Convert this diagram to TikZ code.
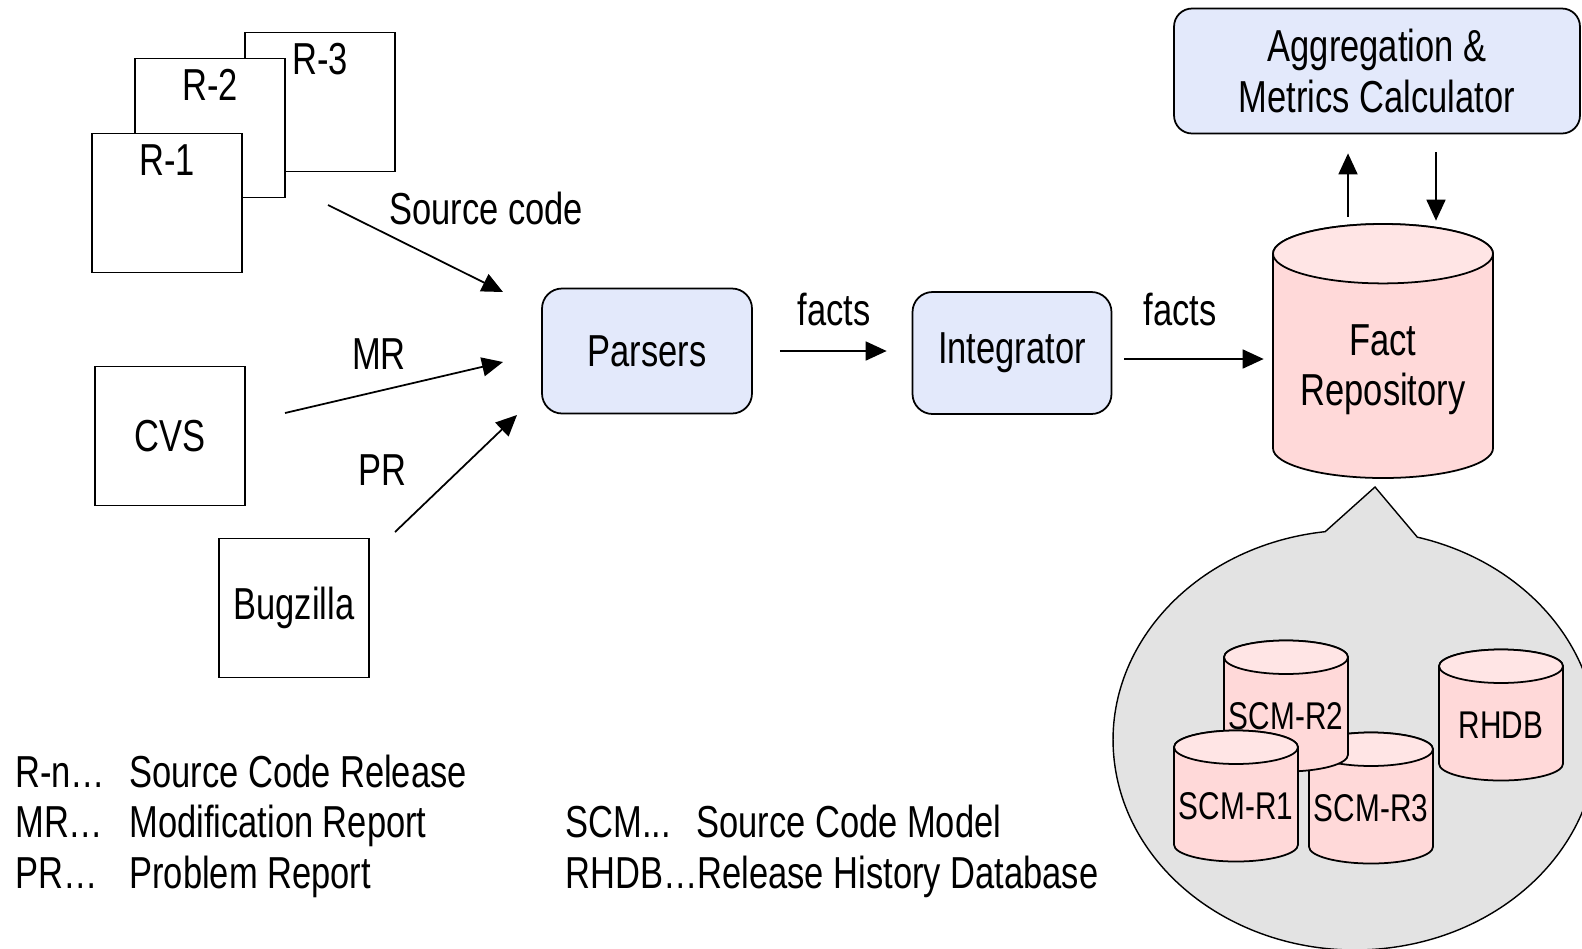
\documentclass[tikz,border=0pt]{standalone}
\usepackage{fontspec}
\setmainfont{Liberation Sans}[FakeStretch=0.77]
\usetikzlibrary{arrows.meta,shapes.callouts,calc}

\definecolor{procblue}{RGB}{227,233,251}
\definecolor{dbbody}{RGB}{255,217,217}
\definecolor{dbtop}{RGB}{255,229,229}
\definecolor{bubblegray}{RGB}{227,227,227}

% database drum: name, x, y, width, height, text style, text
\newcommand{\drum}[7]{%
  \path[drum body] ({#2-#4/2},{#3+#5/2-0.135*#4}) -- ({#2-#4/2},{#3-#5/2+0.135*#4})
    arc[start angle=180, end angle=360, x radius=#4/2, y radius=0.135*#4]
    -- ({#2+#4/2},{#3+#5/2-0.135*#4})
    arc[start angle=0, end angle=180, x radius=#4/2, y radius=0.135*#4] -- cycle;
  \path[drum top] (#2,{#3+#5/2-0.135*#4}) ellipse[x radius=#4/2, y radius=0.135*#4];
  \node[inner sep=0, minimum width=#4*0.02cm, minimum height=#5*0.02cm] (#1) at (#2,#3) {};
  \node[#6] (#1-text) at (#2,{#3-0.085*#4}) {#7};
}

\begin{document}
\begin{tikzpicture}[
    x=0.02cm, y=0.02cm,
    txt/.style={font=\fontsize{25.5}{28.5}\selectfont, inner sep=0},
    smalltxt/.style={font=\fontsize{22}{25}\selectfont, inner sep=0},
    doc/.style={draw, fill=white, line width=1pt, minimum width=3.0cm, minimum height=2.78cm, inner sep=0},
    proc/.style={draw, fill=procblue, line width=1pt, rounded corners=0.4cm, txt, align=center},
    drum body/.style={draw, fill=dbbody, line width=1pt},
    drum top/.style={draw, fill=dbtop, line width=1pt},
    flow/.style={-{Triangle[length=0.42cm, width=0.38cm]}, line width=1pt},
    legend/.style={txt, anchor=base west},
  ]
  \useasboundingbox (0,0) rectangle (1582,-948);

  % Source code releases
  \node[doc] (r3) at (320,-102) {};
  \node[txt, anchor=base] (r3-text) at ([yshift=-0.86cm]r3.north) {R-3};
  \node[doc] (r2) at (210,-128) {};
  \node[txt, anchor=base] (r2-text) at ([yshift=-0.86cm]r2.north) {R-2};
  \node[doc] (r1) at (167,-203) {};
  \node[txt, anchor=base] (r1-text) at ([yshift=-0.86cm]r1.north) {R-1};

  % Repositories
  \node[doc, txt] (cvs) at (170,-436) {CVS};
  \node[doc, txt] (bugzilla) at (294,-608) {Bugzilla};

  % Processing
  \node[proc, minimum width=4.2cm, minimum height=2.5cm] (parsers) at (647,-351) {Parsers};
  \node[proc, minimum width=3.98cm, minimum height=2.44cm] (integrator) at (1012,-353) {Integrator};
  \node[proc, minimum width=8.12cm, minimum height=2.5cm, rounded corners=0.36cm] (agg) at (1377,-71) {Aggregation \&\\Metrics Calculator};

  \drum{factrep}{1383}{-351}{220}{254}{txt, align=center}{Fact\\Repository}

  % Inputs to parsers
  \coordinate (scTail) at (328,-205);
  \coordinate (scHead) at (503,-292);
  \coordinate (mrTail) at (285,-413);
  \coordinate (mrHead) at (503,-362);
  \coordinate (prTail) at (395,-532);
  \coordinate (prHead) at (517,-415);
  \draw[flow] (scTail) -- (scHead);
  \draw[flow] (mrTail) -- (mrHead);
  \draw[flow] (prTail) -- (prHead);
  \node[txt, anchor=base] (lblsrc) at (486,-224) {Source code};
  \node[txt, anchor=base] (lblmr) at (379,-369) {MR};
  \node[txt, anchor=base] (lblpr) at (382,-485) {PR};

  % Facts
  \draw[flow, shorten <=0.54cm, shorten >=0.5cm] (parsers.east) -- (parsers.east -| integrator.west);
  \node[txt, anchor=base] (lblfacts1) at (834,-325) {facts};
  \draw[flow, shorten <=0.24cm, shorten >=0.18cm] ([yshift=-0.12cm]integrator.east) -- ([yshift=-0.12cm]integrator.east -| factrep.west);
  \node[txt, anchor=base] (lblfacts2) at (1180,-325) {facts};

  % Repository <-> calculator
  \draw[flow, shorten <=0.14cm, shorten >=0.38cm] ([xshift=-0.7cm]factrep.north) -- ([xshift=-0.7cm]factrep.north |- agg.south);
  \draw[flow, shorten <=0.36cm, shorten >=0.06cm] ([xshift=1.06cm]factrep.north |- agg.south) -- ([xshift=1.06cm]factrep.north);

  % Repository contents
  \node[ellipse callout, draw, fill=bubblegray, line width=0.8pt, minimum width=9.68cm, minimum height=8.4cm,
    callout absolute pointer={(1375,-487)}, callout pointer arc=22] (bubble) at (1355,-740) {};
  \drum{scmr3}{1371}{-798}{124}{131}{smalltxt}{SCM-R3}
  \drum{scmr2}{1286}{-706}{124}{131}{smalltxt}{SCM-R2}
  \drum{scmr1}{1236}{-796}{124}{131}{smalltxt}{SCM-R1}
  \drum{rhdb}{1501}{-715}{124}{131}{smalltxt}{RHDB}

  % Legend
  \node[legend] (key1) at (15,-787) {R-n…};
  \node[legend] (def1) at (129,-787) {Source Code Release};
  \node[legend] (key2) at (15,-837) {MR…};
  \node[legend] (def2) at (129,-837) {Modification Report};
  \node[legend] (key3) at (15,-888) {PR…};
  \node[legend] (def3) at (129,-888) {Problem Report};
  \node[legend] (key4) at (565,-837) {SCM...};
  \node[legend] (def4) at (696,-837) {Source Code Model};
  \node[legend] (key5) at (565,-888) {RHDB…Release History Database};
\end{tikzpicture}
\end{document}
